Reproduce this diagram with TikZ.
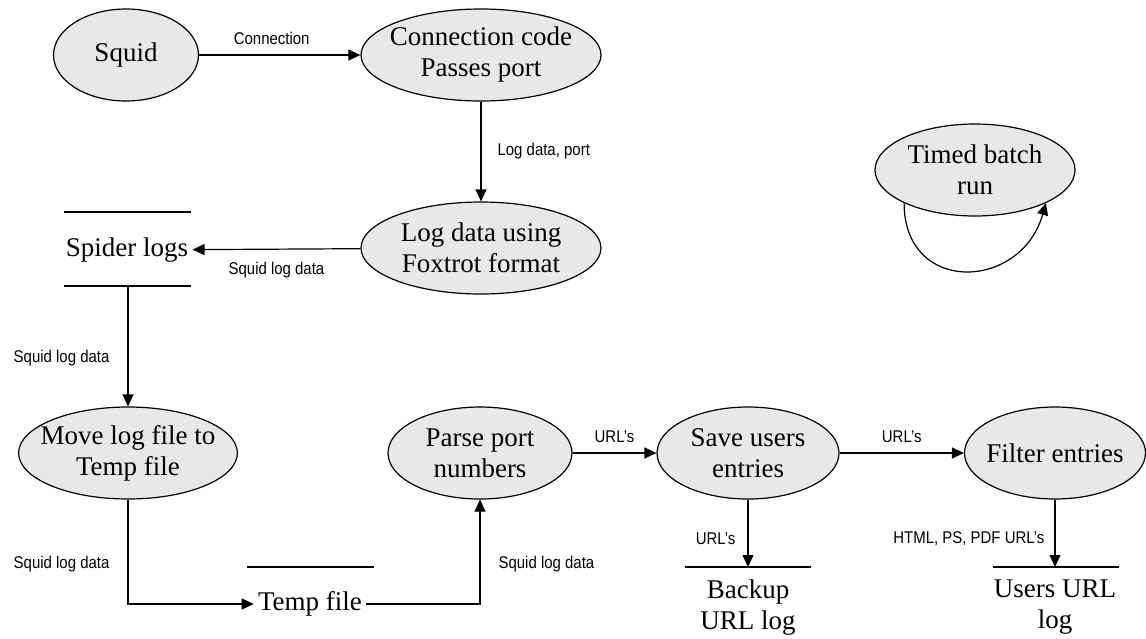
\documentclass[tikz,border=0pt]{standalone}
\usepackage{fontspec}
\setmainfont{Liberation Serif}
\newfontfamily\labelfont[FakeStretch=0.88]{Liberation Sans}
\usetikzlibrary{shapes.geometric,arrows.meta}
\definecolor{procfill}{HTML}{E8E8E8}
\tikzset{
  proc/.style={ellipse, draw, fill=procfill, line width=0.6pt, inner ysep=0pt, inner xsep=-5pt,
    minimum height=46pt, align=center, font=\fontsize{13.5}{15.5}\selectfont},
  store/.style={align=center, inner xsep=2pt, font=\fontsize{13.5}{15.5}\selectfont},
  flow/.style={draw, line width=0.6pt, -{Triangle[length=6pt,width=5.5pt]}},
  lbl/.style={font=\labelfont\fontsize{8.5}{10}\selectfont, inner sep=1pt},
}
\begin{document}
\begin{tikzpicture}[x=0.5pt,y=-0.5pt]
\useasboundingbox (0,0) rectangle (1146,638);
\node[proc, minimum width=72.5pt] (squid) at (126,55) {Squid};
\node[proc, minimum width=120pt] (conn) at (481,55) {Connection code\\Passes port};
\node[proc, minimum width=120pt] (foxtrot) at (481,248) {Log data using\\Foxtrot format};
\node[proc, minimum width=100pt] (timed) at (975,170) {Timed batch\\run};
\node[proc, minimum width=108pt] (move) at (128,453) {Move log file to\\Temp file};
\node[proc, minimum width=92pt] (parse) at (480,453) {Parse port\\numbers};
\node[proc, minimum width=91pt] (save) at (748,453) {Save users\\entries};
\node[proc, minimum width=90.5pt] (filter) at (1055,453) {Filter entries};
\node[store] (spider) at (127,250) {Spider logs};
\node[store] (temp) at (310,604) {Temp file};
\node[store, anchor=north, inner ysep=6pt] (backup) at (748,567) {Backup\\URL log};
\node[store, anchor=north, inner ysep=6pt] (userlog) at (1055,567) {Users URL\\log};
\coordinate (spiderbot) at (128,286);
\draw[line width=0.6pt] (64,212) -- (191,212) (64,286) -- (191,286);
\draw[line width=0.6pt] (247,567) -- (374,567);
\draw[line width=0.6pt] (685,567) -- (811,567);
\draw[line width=0.6pt] (993,567) -- (1119,567);
\draw[flow] (squid) -- node[lbl, above=4pt, pos=0.45] {Connection} (conn);
\draw[flow] (conn) -- node[lbl, right=7pt] {Log data, port} (foxtrot);
\draw[flow] (foxtrot) -- node[lbl, below=5pt] {Squid log data} (spider);
\draw[flow] (spiderbot) -- node[lbl, left=8pt, pos=0.6] {Squid log data} (move);
\draw[flow] (move) |- node[lbl, left=8pt, pos=0.31] {Squid log data} (temp);
\draw[flow] (temp) -| node[lbl, right=8pt, pos=0.69] {Squid log data} (parse);
\draw[flow] (parse) -- node[lbl, above=4pt] {URL’s} (save);
\draw[flow] (save) -- node[lbl, above=4pt] {URL’s} (filter);
\draw[flow] (save) -- node[lbl, left=5pt, pos=0.58] {URL’s} (backup);
\draw[flow] (filter) -- node[lbl, left=4pt, pos=0.58] {HTML, PS, PDF URL’s} (userlog);
\draw[flow] (timed.205) .. controls +(0,92) and +(-25,88) .. (timed.335);
\end{tikzpicture}
\end{document}
